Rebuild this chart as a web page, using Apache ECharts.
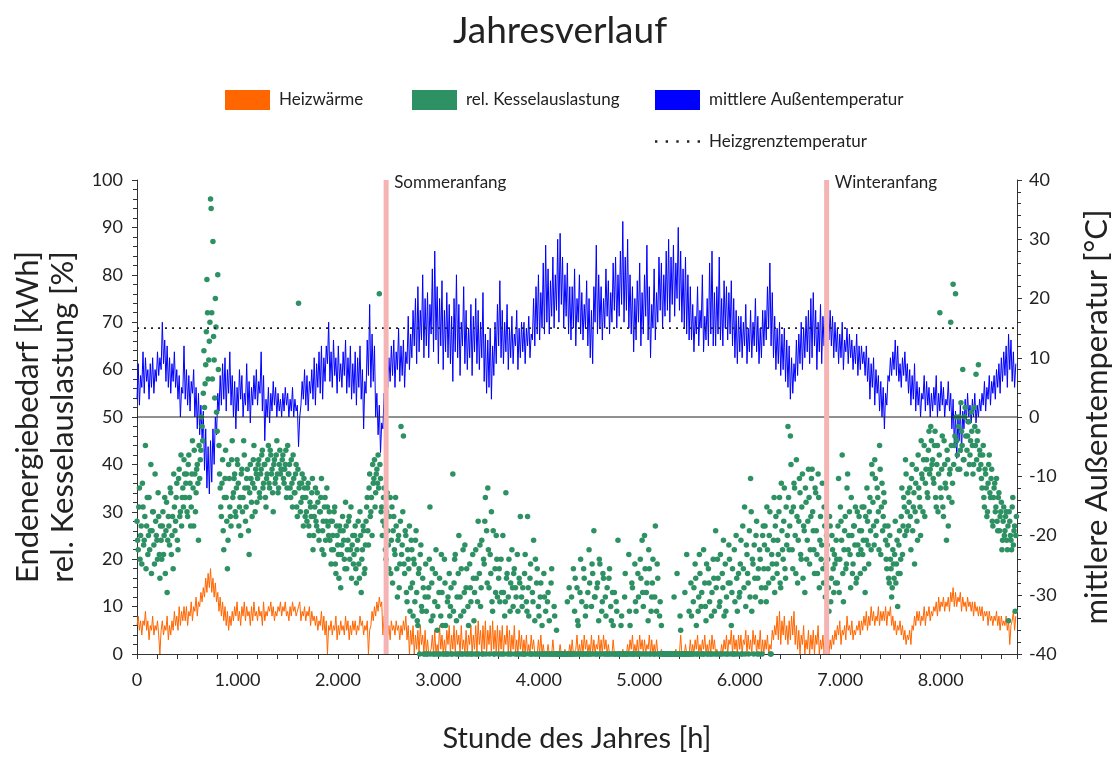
<!DOCTYPE html>
<html><head><meta charset="utf-8">
<script src="https://cdn.jsdelivr.net/npm/echarts@6/dist/echarts.min.js"></script>
<style>html,body{margin:0;padding:0;background:#fff}#c{width:1120px;height:758px}</style>
</head><body><div id="c"></div>
<script>
// one value every 12 hours, starting at hour 0
const STEP_HOURS = 12;
const HOURS_YEAR = 8760;

// mittlere Außentemperatur [°C]
const temperatur = [
3,9,2,7,5,11,4,10,6,8,3,9,5,10,4,8,6,11,7,10,
8,16,9,13,6,12,5,10,4,9,6,11,5,8,3,7,0,5,4,12,
3,8,2,7,1,6,4,8,0,5,-2,4,-3,2,-4,1,-9,-2,-12,-5,
-13,-4,-11,-2,-8,0,-3,4,1,7,2,9,3,10,1,8,4,11,2,7,
0,6,-2,5,1,8,3,7,0,4,2,9,1,6,-1,5,2,7,3,8,
2,6,4,11,1,7,-4,3,0,5,-1,4,1,6,2,5,0,4,1,3,
0,4,1,5,2,4,0,3,1,5,0,3,1,2,-5,0,2,6,3,8,
2,7,1,6,4,8,3,10,2,9,5,11,4,12,3,10,6,12,9,16,
6,11,5,13,7,10,4,12,6,9,5,11,7,13,4,10,5,12,3,9,
4,11,2,10,5,12,3,8,-2,6,4,13,7,19,5,14,6,12,0,4,
-3,2,-6,-1,-2,4,2,8,5,10,6,12,7,13,5,11,8,15,6,12,
7,13,5,11,9,17,8,14,10,18,12,20,9,22,11,18,13,24,10,20,
12,21,10,19,14,25,11,28,13,22,9,20,12,23,8,18,11,21,10,19,
9,17,6,20,11,24,10,19,7,16,12,22,9,18,8,15,10,19,7,17,
11,20,9,18,8,16,10,21,6,14,4,13,5,15,3,12,7,16,9,19,
12,23,10,18,9,16,11,19,8,15,10,17,9,14,12,18,8,15,10,16,
11,16,9,15,12,17,10,14,13,20,12,22,14,24,13,21,15,26,14,29,
16,25,14,23,17,27,15,24,18,30,16,31,19,27,15,24,17,26,14,22,
13,22,15,25,12,20,16,24,14,21,13,19,15,23,12,20,10,18,9,22,
16,29,14,24,15,22,13,20,15,25,17,23,14,21,16,26,18,27,15,24,
17,28,19,33,16,27,18,30,15,24,14,22,11,20,13,23,16,26,12,21,
14,24,17,29,13,22,10,19,15,25,13,21,16,27,18,26,15,24,17,28,
18,30,16,27,19,29,17,26,20,32,18,28,16,25,15,27,14,24,13,22,
13,19,11,17,14,22,12,18,15,24,11,17,13,20,12,26,14,28,12,21,
12,22,14,27,13,20,12,23,15,22,13,21,14,23,12,20,10,18,9,17,
11,17,10,16,12,19,9,15,11,18,10,16,12,20,11,17,9,15,10,18,
12,18,13,22,15,26,12,21,10,17,8,15,9,16,7,14,8,15,6,13,
5,12,3,10,4,9,6,13,7,14,9,16,8,15,10,17,11,18,9,20,
10,21,12,18,8,16,11,19,9,17,12,18,11,16,13,18,12,17,10,16,
11,15,9,14,10,16,8,13,11,15,9,14,10,13,8,12,9,14,7,12,
8,12,9,11,7,12,6,10,3,9,5,10,2,8,4,7,1,6,0,5,
-2,4,2,7,6,10,7,11,8,13,7,12,6,9,5,10,7,11,6,9,
4,8,2,7,3,9,1,6,2,5,0,4,3,7,1,6,2,5,0,4,
1,5,2,7,0,4,1,6,2,5,0,3,2,6,1,4,-2,3,-5,1,
-7,0,-4,2,-6,1,-2,3,-1,4,0,2,-1,3,0,4,-1,2,0,3,
1,4,2,6,1,5,3,7,2,6,4,7,3,8,5,9,4,10,6,11,
7,12,5,14,8,13,6,11,5,9
];

// Heizwärme [kWh]
const heizwaerme = [
6,8,5,7,4,7,6,9,5,7,3,6,5,8,4,6,5,7,4,0,
5,7,4,6,5,8,3,6,4,7,5,9,6,8,5,10,6,9,7,10,
7,10,6,9,8,11,7,10,9,12,8,11,10,13,11,14,12,16,13,17,
14,18,13,16,12,15,11,13,9,12,8,11,7,10,6,9,5,8,6,9,
7,10,8,11,7,9,6,10,8,11,7,10,8,9,6,10,7,11,8,9,
7,10,8,9,6,11,7,9,8,10,9,11,8,10,7,9,8,10,9,11,
8,10,9,11,8,9,7,10,8,11,9,10,8,9,10,11,7,9,8,10,
7,9,8,10,6,9,7,8,6,8,5,7,6,9,5,8,4,7,0,6,
5,7,4,6,5,8,3,6,4,7,5,6,4,8,5,7,3,6,4,7,
5,7,4,6,5,8,6,7,4,6,5,7,0,5,6,9,7,10,8,11,
9,12,10,11,4,8,5,7,4,6,3,7,5,6,4,7,5,6,3,6,
4,7,5,8,3,6,0,5,2,6,0,4,1,5,0,6,2,4,0,5,
0,3,0,0,1,4,0,5,0,2,0,6,1,4,0,3,0,5,2,6,
0,4,1,6,0,5,2,4,0,6,1,3,0,5,0,4,2,6,0,4,
1,6,0,7,2,5,0,6,1,7,0,5,2,6,0,7,1,5,0,6,
0,5,1,6,0,4,2,6,0,5,0,4,1,6,0,3,0,5,1,4,
0,3,0,4,0,2,0,4,1,3,0,0,0,3,0,4,0,2,0,0,
0,2,0,0,0,3,0,0,0,0,0,2,0,0,0,1,0,0,0,2,
0,3,0,0,1,4,0,2,0,3,0,4,1,3,0,2,0,4,0,3,
0,2,1,4,0,3,0,4,1,3,0,2,0,0,0,3,0,0,0,0,
0,0,0,1,0,0,0,2,0,3,1,4,0,2,0,3,0,4,1,3,
0,3,0,2,1,4,0,3,0,2,0,3,0,0,0,1,0,0,0,0,
0,0,0,0,0,0,0,1,0,0,0,4,0,0,0,2,0,0,0,3,
0,2,0,3,1,4,0,2,0,3,1,4,0,2,0,3,0,4,1,3,
0,1,0,0,0,2,0,3,1,4,0,3,2,5,0,4,1,3,0,4,
1,4,0,3,2,5,0,4,1,3,0,5,2,4,0,3,1,5,0,3,
0,3,1,4,0,2,1,5,3,6,4,8,3,9,2,7,4,8,3,6,
2,7,3,8,4,9,2,6,1,5,0,4,2,6,0,3,1,5,0,4,
1,5,0,4,2,6,0,3,1,4,0,2,0,1,0,3,1,4,2,5,
3,6,4,7,2,5,4,6,3,8,5,6,4,7,3,5,4,6,5,7,
4,7,5,8,6,9,5,8,6,10,7,9,6,8,7,10,6,9,7,9,
7,10,6,9,8,10,6,8,5,7,4,6,5,7,4,6,3,5,2,4,
3,5,2,6,5,8,6,9,7,9,6,8,7,10,6,9,8,10,7,9,
8,10,9,11,8,12,9,11,10,12,9,11,10,12,9,13,11,14,10,13,
10,12,11,13,9,12,10,11,9,12,10,11,9,11,8,11,9,10,8,10,
8,10,7,9,8,9,6,9,7,8,6,8,7,9,6,8,5,8,6,7,
6,8,5,7,2,6,7,9,5,8
];

// rel. Kesselauslastung [%] at hours 0, 12, 24, ...
const kesselauslastung = [
28,22,35,25,19,31,24,44,27,21,33,26,17,30,23,38,25,20,29,16,
24,27,21,33,26,13,29,23,34,25,18,31,28,36,22,39,30,27,35,41,
33,38,29,42,36,31,45,27,38,34,40,24,37,43,48,55,52,61,79,58,
66,96,72,87,62,75,51,80,44,35,29,41,22,37,33,18,40,31,27,45,
34,38,29,41,36,31,25,39,33,42,28,37,35,21,40,32,36,44,30,38,
37,41,33,39,43,36,40,31,38,44,35,42,39,30,41,37,45,34,40,38,
39,42,36,40,33,44,38,35,41,31,37,34,40,29,74,36,32,38,27,35,
33,28,36,25,31,34,22,29,35,27,32,24,30,37,26,21,33,28,31,25,
24,19,28,22,31,17,25,21,27,14,23,26,20,32,18,24,29,22,16,25,
21,27,15,24,19,30,13,22,26,18,28,33,23,38,30,25,36,41,34,39,
42,76,37,31,28,35,22,30,26,18,33,24,15,29,21,27,12,25,19,48,
23,46,17,25,11,20,27,14,22,8,19,24,13,6,18,21,10,16,0,12,
9,0,14,31,7,18,0,11,22,5,0,16,8,13,0,20,6,0,12,17,
10,0,38,15,21,7,0,25,12,18,0,9,23,14,0,6,19,11,0,16,
13,22,0,28,17,10,24,0,19,33,26,35,14,21,30,9,0,18,25,12,
16,11,20,0,13,8,34,17,12,0,15,22,10,18,14,0,9,16,29,12,
14,0,21,11,29,8,16,0,13,24,7,0,18,10,0,15,6,0,12,9,
0,13,7,0,18,0,10,0,5,0,0,0,0,0,0,0,0,11,0,0,
0,0,18,9,0,14,6,0,20,11,0,16,8,0,13,22,0,10,17,26,
12,0,15,7,19,0,11,16,0,8,14,0,18,10,0,6,13,0,9,24,
0,0,8,0,0,17,0,0,21,6,0,14,0,19,9,0,12,0,16,24,
10,25,0,15,7,18,0,12,20,0,27,9,16,0,11,6,0,0,0,0,
0,0,0,0,0,0,0,0,17,0,0,5,0,0,0,0,21,0,9,0,
8,0,14,19,6,0,12,17,10,0,22,15,7,0,18,11,0,13,20,9,
26,0,16,10,21,0,14,8,19,12,0,23,15,6,18,0,11,25,9,17,
13,24,0,18,31,10,21,15,26,37,9,19,23,12,28,16,0,20,14,25,
18,27,11,22,15,30,0,19,24,13,29,17,21,33,14,26,20,35,16,23,
48,22,46,30,18,36,25,41,15,28,34,20,38,27,13,32,24,39,19,29,
39,26,17,34,21,38,14,29,23,18,31,12,25,20,9,27,16,22,13,19,
24,15,37,20,28,42,11,26,18,35,22,30,14,25,19,27,31,16,23,29,
17,26,21,31,13,24,28,19,33,22,38,27,41,25,35,30,44,21,36,29,
32,24,18,27,15,20,12,22,16,28,19,10,23,17,29,21,33,25,38,30,
27,35,22,40,31,19,36,28,42,33,25,38,30,44,36,41,33,47,39,45,
41,36,47,31,44,38,72,33,46,29,40,35,43,27,38,70,32,78,44,76,
45,39,50,43,47,60,41,52,38,46,49,42,51,44,40,48,59,45,61,43,
40,35,44,31,38,29,36,42,33,39,27,35,30,37,26,34,29,32,24,31,
26,30,22,7,28,24,31,23,27,25
];

// rel. Kesselauslastung [%] at hours 6, 18, 30, ...
const kesselauslastungVersatz = [
24,31,20,27,36,23,29,18,33,25,22,40,26,30,19,28,24,34,21,27,
20,30,25,17,32,24,27,35,21,29,38,26,33,24,37,29,42,33,31,38,
36,30,40,33,27,38,35,43,30,39,36,44,41,50,45,64,57,68,72,62,
70,94,58,67,54,69,47,60,38,31,36,26,33,43,28,24,37,29,41,33,
37,30,35,40,27,33,38,30,45,35,31,39,26,34,37,29,41,35,39,32,
40,34,38,42,35,40,33,37,41,36,43,38,34,40,36,42,38,35,43,39,
41,37,39,43,35,38,40,33,36,42,34,38,31,39,35,30,36,33,37,29,
30,35,27,32,29,37,25,31,28,34,26,30,33,22,28,31,24,35,27,30,
28,22,25,30,19,27,23,16,26,21,29,24,18,27,22,28,20,31,23,19,
25,18,22,28,16,25,20,27,17,23,31,26,35,29,33,40,37,31,38,36,
35,40,30,25,33,27,20,34,23,29,17,31,26,22,33,18,24,14,28,21,
30,19,26,13,22,18,9,24,15,20,11,26,7,17,0,23,9,14,0,19,
0,12,20,0,15,8,0,17,0,10,13,0,21,6,0,15,0,11,0,8,
14,0,9,20,0,12,17,0,8,0,22,13,0,18,10,0,14,0,21,7,
0,16,11,0,23,14,0,20,28,0,15,22,0,17,11,26,0,13,20,0,
18,0,13,25,0,11,16,0,20,9,0,14,17,0,12,21,0,15,0,10,
0,17,0,9,14,0,19,0,11,0,20,15,0,8,12,0,0,17,0,0,
11,0,0,15,0,0,8,0,0,0,0,0,0,0,0,0,0,0,14,0,
12,0,0,16,0,7,0,13,0,0,18,0,10,0,0,15,0,19,0,12,
0,14,0,20,0,9,17,0,12,0,0,16,0,7,13,0,0,11,0,0,
0,6,0,0,12,0,0,0,9,0,15,0,0,11,0,17,0,20,0,13,
0,18,13,0,22,0,9,15,0,12,0,19,0,8,0,0,0,0,0,0,
0,0,0,0,0,12,0,0,0,0,8,0,0,0,13,0,0,0,0,15,
0,11,0,16,0,9,21,0,13,0,0,10,19,0,15,0,8,0,16,0,
14,20,0,11,0,17,24,0,9,0,15,20,0,13,0,22,0,16,0,12,
19,0,27,14,0,23,17,0,12,30,20,0,16,25,0,18,22,11,0,27,
23,14,31,18,25,0,21,16,33,27,19,24,30,15,36,22,28,18,31,25,
33,27,40,22,31,35,17,29,24,37,21,31,16,26,35,20,28,33,22,37,
30,22,35,26,17,33,24,20,36,15,27,19,23,14,29,11,25,18,21,15,
20,27,13,31,24,17,22,29,19,38,25,21,33,17,27,23,15,30,21,26,
22,31,24,18,29,35,23,30,26,40,32,23,37,28,33,22,39,31,26,34,
27,20,23,16,25,18,14,19,21,15,24,17,26,20,35,27,31,41,26,34,
32,29,37,26,34,30,39,24,35,31,45,37,41,29,39,34,43,38,48,40,
37,44,33,40,30,42,35,39,31,45,36,24,41,33,39,44,36,40,46,50,
42,48,39,53,44,41,50,46,43,49,40,45,47,38,52,44,41,47,39,42,
37,42,33,39,35,30,40,34,37,28,33,36,31,28,33,26,30,22,28,25,
29,24,27,30,25,22,33,26,9,29
];

const heizgrenztemperatur = 15;      // °C
const jahreszeiten = ['Sommeranfang', 'Winteranfang'];
const jahreszeitenStunden = [2480, 6865];
const xTickLabels = ['0','1.000','2.000','3.000','4.000','5.000','6.000','7.000','8.000'];

const FONT = 'Lato, "Open Sans", sans-serif';
const toPairs = (arr, start) => arr.map((v, i) => [(start || 0) + i * STEP_HOURS, v]);

const chart = echarts.init(document.getElementById('c'), null, {renderer: 'canvas'});

const seasonSeries = jahreszeiten.map((name, k) => ({
  name, type: 'line', yAxisIndex: 0, z: 8, silent: true,
  symbol: 'none',
  lineStyle: {color: '#f5b3b3', width: 5},
  data: [[jahreszeitenStunden[k], 0], [jahreszeitenStunden[k], 100]],
  endLabel: {show: true, formatter: name, fontFamily: FONT, fontSize: 17, color: '#222', distance: 8, offset: [0, 3]}
}));

const dottedIcon = 'path://M0,0h2v2h-2zM9,0h2v2h-2zM18,0h2v2h-2zM27,0h2v2h-2zM36,0h2v2h-2z';

chart.setOption({
  animation: false,
  backgroundColor: '#fff',
  title: {text: 'Jahresverlauf', left: 'center', top: 8,
    textStyle: {fontFamily: FONT, fontSize: 37, fontWeight: 'normal', color: '#222'}},
  legend: [
    {data: [{name: 'Heizwärme', icon: 'rect'}], left: 225, top: 90},
    {data: [{name: 'rel. Kesselauslastung', icon: 'rect'}], left: 412, top: 90},
    {data: [{name: 'mittlere Außentemperatur', icon: 'rect'}], left: 655, top: 90},
    {data: [{name: 'Heizgrenztemperatur', icon: dottedIcon}], left: 655, top: 133}
  ].map(l => Object.assign(l, {itemWidth: 45, itemHeight: 20, itemGap: 10, padding: 0,
    textStyle: {fontFamily: FONT, fontSize: 17, color: '#222', padding: [0, 0, 0, 4]}})),
  grid: {left: 137, right: 103, top: 180, bottom: 97},
  xAxis: {
    type: 'value', min: 0, max: HOURS_YEAR, interval: 1000,
    name: 'Stunde des Jahres [h]', nameLocation: 'middle', nameGap: 70,
    nameTextStyle: {fontFamily: FONT, fontSize: 29, color: '#222'},
    axisLine: {lineStyle: {color: '#333', width: 1}},
    axisTick: {show: true, length: 5, lineStyle: {color: '#333'}},
    minorTick: {show: true, splitNumber: 5, length: 5, lineStyle: {color: '#333'}},
    splitLine: {show: false},
    axisLabel: {fontFamily: FONT, fontSize: 18, color: '#222', margin: 17,
      formatter: v => (v % 1000 === 0 ? xTickLabels[v / 1000] : '')}
  },
  yAxis: [
    {
      type: 'value', min: 0, max: 100, interval: 10, position: 'left',
      name: 'Endenergiebedarf [kWh]\nrel. Kesselauslastung [%]',
      nameLocation: 'middle', nameRotate: 90, nameGap: 56,
      nameTextStyle: {fontFamily: FONT, fontSize: 31, color: '#222', lineHeight: 35},
      axisLine: {show: true, lineStyle: {color: '#333'}},
      axisTick: {show: true, length: 5, lineStyle: {color: '#333'}},
      minorTick: {show: true, splitNumber: 5, length: 4, lineStyle: {color: '#333'}},
      splitLine: {show: false},
      axisLabel: {fontFamily: FONT, fontSize: 18, color: '#222', margin: 14}
    },
    {
      type: 'value', min: -40, max: 40, interval: 10, position: 'right',
      name: 'mittlere Außentemperatur [°C]',
      nameLocation: 'middle', nameRotate: 90, nameGap: 64,
      nameTextStyle: {fontFamily: FONT, fontSize: 31, color: '#222'},
      axisLine: {show: true, lineStyle: {color: '#333'}},
      axisTick: {show: true, length: 5, lineStyle: {color: '#333'}},
      minorTick: {show: true, splitNumber: 5, length: 4, lineStyle: {color: '#333'}},
      splitLine: {show: false},
      axisLabel: {fontFamily: FONT, fontSize: 18, color: '#222', margin: 12}
    }
  ],
  series: [
    {
      name: 'mittlere Außentemperatur', type: 'line', yAxisIndex: 1, z: 2,
      symbol: 'none',
      itemStyle: {color: '#0000ff'},
      lineStyle: {color: '#0000ff', width: 1},
      data: toPairs(temperatur, 0)
    },
    {
      name: 'Heizwärme', type: 'line', yAxisIndex: 0, z: 3,
      symbol: 'none',
      itemStyle: {color: '#ff6600'},
      lineStyle: {color: '#ff6600', width: 1},
      data: toPairs(heizwaerme, 0)
    },
    {
      name: 'rel. Kesselauslastung', type: 'scatter', yAxisIndex: 0, z: 4,
      symbolSize: 5.5,
      itemStyle: {color: '#2e9163', opacity: 1},
      data: toPairs(kesselauslastung, 0).concat(toPairs(kesselauslastungVersatz, STEP_HOURS / 2))
    },
    {
      name: 'Heizgrenztemperatur', type: 'line', yAxisIndex: 1, z: 6, silent: true,
      symbol: 'none',
      itemStyle: {color: '#222'},
      lineStyle: {color: '#222', width: 1.6, type: [2, 5]},
      data: [[0, heizgrenztemperatur], [HOURS_YEAR, heizgrenztemperatur]]
    },
    {
      name: 'Nulllinie', type: 'line', yAxisIndex: 1, z: 6, silent: true,
      symbol: 'none',
      lineStyle: {color: '#222', width: 1},
      data: [[0, 0], [HOURS_YEAR, 0]]
    }
  ].concat(seasonSeries)
});
</script>
</body></html>
